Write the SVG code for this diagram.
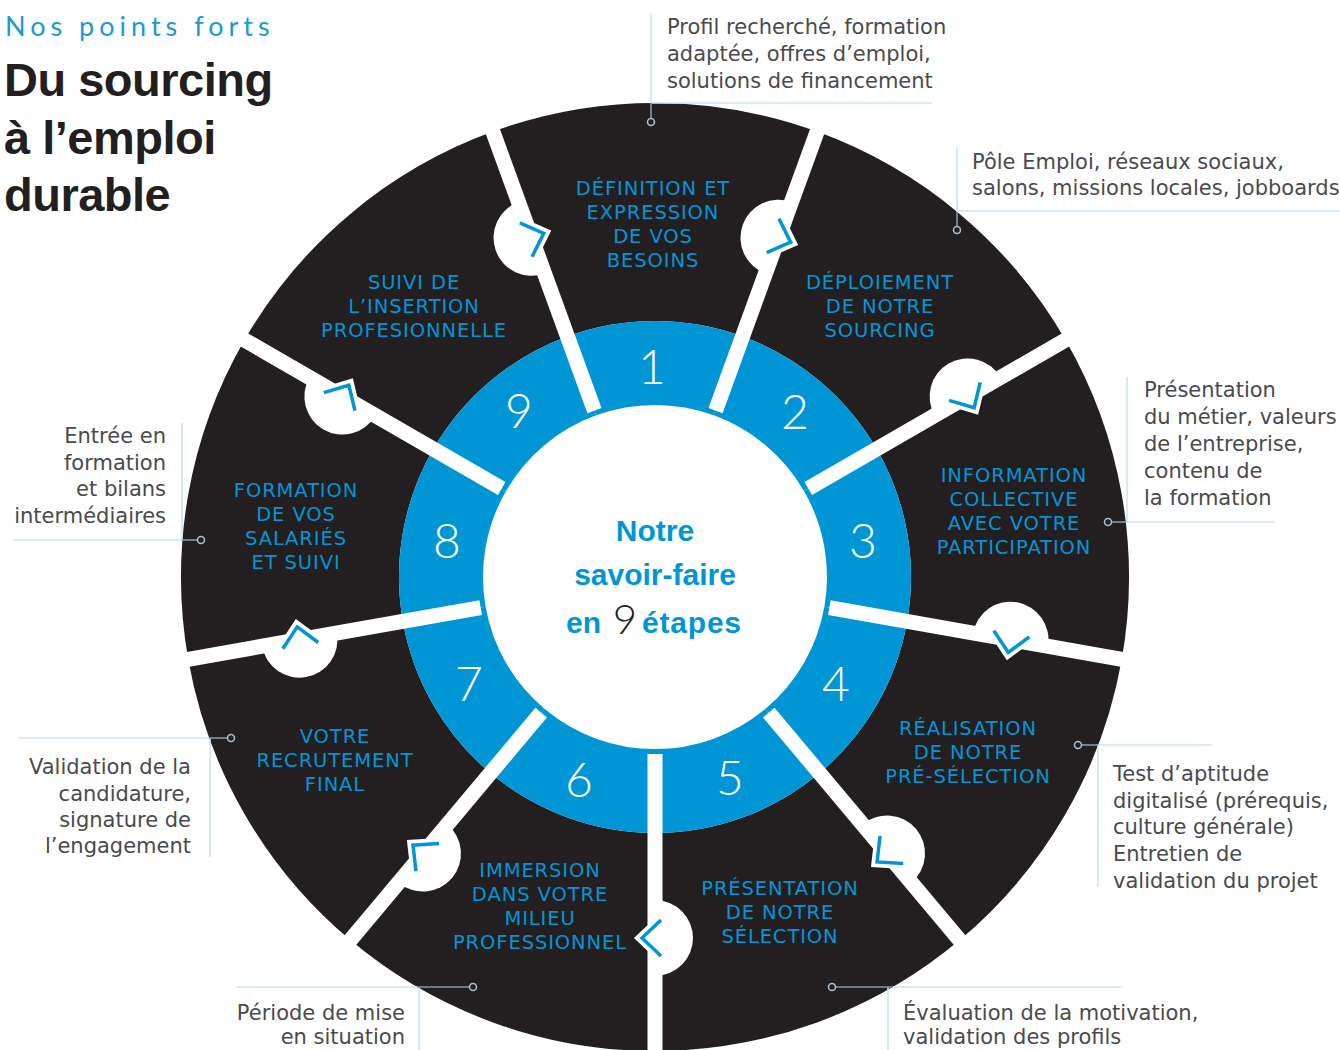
<svg xmlns="http://www.w3.org/2000/svg" width="1340" height="1050" viewBox="0 0 1340 1050">
<style>
.dk{fill:#231f20}
.bl{fill:#0096d6}
.lbl{font-family:"DejaVu Sans","Liberation Sans",sans-serif;font-size:19.5px;fill:#0096d6;text-anchor:middle;letter-spacing:0.9px}
.num{font-family:Lato,"DejaVu Sans",sans-serif;font-weight:300;font-size:48px;fill:#ffffff;text-anchor:middle}
.ann{font-family:"DejaVu Sans","Liberation Sans",sans-serif;font-size:21px;fill:#4a4a4c}
.r{text-anchor:end}
.gap{stroke:#ffffff;stroke-width:15}
.lt{stroke:#cfe3f3;stroke-width:1.6;fill:none}
.dkl{stroke:#8496a9;stroke-width:1.6;fill:none}
.dot{fill:none;stroke:#a9bdd0;stroke-width:1.6}
.cw{fill:none;stroke:#ffffff;stroke-width:11;stroke-linejoin:miter}
.cb{fill:none;stroke:#0096d6;stroke-width:3.5;stroke-linejoin:miter}
.ctr{font-family:"Liberation Sans",Arial,sans-serif;font-weight:bold;font-size:30px;fill:#0096d6}
</style>
<defs>
<g id="bump">
<path d="M655 178 A38 38 0 0 0 655 254 Z" fill="#ffffff"/>
<polyline class="cw" points="649,198 668,216 649,234"/>
<polyline class="cb" points="649,198 668,216 649,234"/>
</g>
</defs>
<rect width="1340" height="1050" fill="#ffffff"/>

<g id="title">
<text x="5" y="36" style="font-family:Lato,'DejaVu Sans',sans-serif;font-weight:400;font-size:27px;letter-spacing:5px;fill:#1a9ad6">Nos points forts</text>
<text style="font-family:'Liberation Sans',Arial,sans-serif;font-weight:bold;font-size:47px;letter-spacing:-0.5px;fill:#231f20">
<tspan x="4" y="96">Du sourcing</tspan>
<tspan x="4" y="154">à l’emploi</tspan>
<tspan x="4" y="211">durable</tspan>
</text>
</g>

<g id="step1">
<path class="dk" d="M492.88 131.59 A474 474 0 0 1 817.12 131.59 L742.56 336.44 A256 256 0 0 0 567.44 336.44 Z"/>
<path class="bl" d="M567.44 336.44 A256 256 0 0 1 742.56 336.44 L713.83 415.37 A172 172 0 0 0 596.17 415.37 Z"/>
<text class="num" x="652" y="384">1</text>
<text class="lbl"><tspan x="653" y="195">DÉFINITION ET</tspan><tspan x="653" y="219">EXPRESSION</tspan><tspan x="653" y="243">DE VOS</tspan><tspan x="653" y="267">BESOINS</tspan></text>
</g>
<g id="step2">
<path class="dk" d="M817.12 131.59 A474 474 0 0 1 1065.5 340 L876.7 449 A256 256 0 0 0 742.56 336.44 Z"/>
<path class="bl" d="M742.56 336.44 A256 256 0 0 1 876.7 449 L803.96 491 A172 172 0 0 0 713.83 415.37 Z"/>
<text class="num" x="795" y="429">2</text>
<text class="lbl"><tspan x="880" y="289">DÉPLOIEMENT</tspan><tspan x="880" y="313">DE NOTRE</tspan><tspan x="880" y="337">SOURCING</tspan></text>
</g>
<g id="step3">
<path class="dk" d="M1065.5 340 A474 474 0 0 1 1121.8 659.31 L907.11 621.45 A256 256 0 0 0 876.7 449 Z"/>
<path class="bl" d="M876.7 449 A256 256 0 0 1 907.11 621.45 L824.39 606.87 A172 172 0 0 0 803.96 491 Z"/>
<text class="num" x="863" y="558">3</text>
<text class="lbl"><tspan x="1014" y="482">INFORMATION</tspan><tspan x="1014" y="506">COLLECTIVE</tspan><tspan x="1014" y="530">AVEC VOTRE</tspan><tspan x="1014" y="554">PARTICIPATION</tspan></text>
</g>
<g id="step4">
<path class="dk" d="M1121.8 659.31 A474 474 0 0 1 959.68 940.1 L819.55 773.11 A256 256 0 0 0 907.11 621.45 Z"/>
<path class="bl" d="M907.11 621.45 A256 256 0 0 1 819.55 773.11 L765.56 708.76 A172 172 0 0 0 824.39 606.87 Z"/>
<text class="num" x="836" y="701">4</text>
<text class="lbl"><tspan x="968" y="735">RÉALISATION</tspan><tspan x="968" y="759">DE NOTRE</tspan><tspan x="968" y="783">PRÉ-SÉLECTION</tspan></text>
</g>
<g id="step5">
<path class="dk" d="M959.68 940.1 A474 474 0 0 1 655 1051 L655 833 A256 256 0 0 0 819.55 773.11 Z"/>
<path class="bl" d="M819.55 773.11 A256 256 0 0 1 655 833 L655 749 A172 172 0 0 0 765.56 708.76 Z"/>
<text class="num" x="730" y="795">5</text>
<text class="lbl"><tspan x="780" y="895">PRÉSENTATION</tspan><tspan x="780" y="919">DE NOTRE</tspan><tspan x="780" y="943">SÉLECTION</tspan></text>
</g>
<g id="step6">
<path class="dk" d="M655 1051 A474 474 0 0 1 350.32 940.1 L490.45 773.11 A256 256 0 0 0 655 833 Z"/>
<path class="bl" d="M655 833 A256 256 0 0 1 490.45 773.11 L544.44 708.76 A172 172 0 0 0 655 749 Z"/>
<text class="num" x="579" y="797">6</text>
<text class="lbl"><tspan x="540" y="877">IMMERSION</tspan><tspan x="540" y="901">DANS VOTRE</tspan><tspan x="540" y="925">MILIEU</tspan><tspan x="540" y="949">PROFESSIONNEL</tspan></text>
</g>
<g id="step7">
<path class="dk" d="M350.32 940.1 A474 474 0 0 1 188.2 659.31 L402.89 621.45 A256 256 0 0 0 490.45 773.11 Z"/>
<path class="bl" d="M490.45 773.11 A256 256 0 0 1 402.89 621.45 L485.61 606.87 A172 172 0 0 0 544.44 708.76 Z"/>
<text class="num" x="469" y="701">7</text>
<text class="lbl"><tspan x="335" y="743">VOTRE</tspan><tspan x="335" y="767">RECRUTEMENT</tspan><tspan x="335" y="791">FINAL</tspan></text>
</g>
<g id="step8">
<path class="dk" d="M188.2 659.31 A474 474 0 0 1 244.5 340 L433.3 449 A256 256 0 0 0 402.89 621.45 Z"/>
<path class="bl" d="M402.89 621.45 A256 256 0 0 1 433.3 449 L506.04 491 A172 172 0 0 0 485.61 606.87 Z"/>
<text class="num" x="447" y="558">8</text>
<text class="lbl"><tspan x="296" y="497">FORMATION</tspan><tspan x="296" y="521">DE VOS</tspan><tspan x="296" y="545">SALARIÉS</tspan><tspan x="296" y="569">ET SUIVI</tspan></text>
</g>
<g id="step9">
<path class="dk" d="M244.5 340 A474 474 0 0 1 492.88 131.59 L567.44 336.44 A256 256 0 0 0 433.3 449 Z"/>
<path class="bl" d="M433.3 449 A256 256 0 0 1 567.44 336.44 L596.17 415.37 A172 172 0 0 0 506.04 491 Z"/>
<text class="num" x="519" y="428">9</text>
<text class="lbl"><tspan x="414" y="289">SUIVI DE</tspan><tspan x="414" y="313">L’INSERTION</tspan><tspan x="414" y="337">PROFESIONNELLE</tspan></text>
</g>

<g id="center">
<text class="ctr" x="655" y="541" text-anchor="middle">Notre</text>
<text class="ctr" x="655" y="585" text-anchor="middle">savoir-faire</text>
<text class="ctr" x="566" y="633">en</text>
<text x="625" y="634" text-anchor="middle" style="font-family:Lato,'DejaVu Sans',sans-serif;font-weight:300;font-size:42px;fill:#231f20">9</text>
<text class="ctr" x="642" y="633" style="letter-spacing:0.8px">étapes</text>
</g>

<g id="connectors">
<g id="gaps">
<line class="gap" x1="655" y1="400" x2="655" y2="90" transform="rotate(20 655 577)"/>
<line class="gap" x1="655" y1="400" x2="655" y2="90" transform="rotate(60 655 577)"/>
<line class="gap" x1="655" y1="400" x2="655" y2="90" transform="rotate(100 655 577)"/>
<line class="gap" x1="655" y1="400" x2="655" y2="90" transform="rotate(140 655 577)"/>
<line class="gap" x1="655" y1="400" x2="655" y2="90" transform="rotate(180 655 577)"/>
<line class="gap" x1="655" y1="400" x2="655" y2="90" transform="rotate(220 655 577)"/>
<line class="gap" x1="655" y1="400" x2="655" y2="90" transform="rotate(260 655 577)"/>
<line class="gap" x1="655" y1="400" x2="655" y2="90" transform="rotate(300 655 577)"/>
<line class="gap" x1="655" y1="400" x2="655" y2="90" transform="rotate(340 655 577)"/>
</g>
<g id="arrows">
<use href="#bump" transform="rotate(20 655 577)"/>
<use href="#bump" transform="rotate(60 655 577)"/>
<use href="#bump" transform="rotate(100 655 577)"/>
<use href="#bump" transform="rotate(140 655 577)"/>
<use href="#bump" transform="rotate(180 655 577)"/>
<use href="#bump" transform="rotate(220 655 577)"/>
<use href="#bump" transform="rotate(260 655 577)"/>
<use href="#bump" transform="rotate(300 655 577)"/>
<use href="#bump" transform="rotate(340 655 577)"/>
</g>
<g id="leaders">
<path class="lt" d="M651 13 V103 M651 103 H932"/>
<path class="dkl" d="M651 103 V118.5"/>
<circle class="dot" cx="651" cy="122" r="3.5"/>
<path class="lt" d="M957 147 V211 H1340"/>
<path class="dkl" d="M957 212 V226.5"/>
<circle class="dot" cx="957" cy="230" r="3.5"/>
<path class="lt" d="M1127 377 V522 M1126 522 H1275"/>
<path class="dkl" d="M1111.5 522 H1126"/>
<circle class="dot" cx="1108" cy="522" r="3.5"/>
<path class="lt" d="M1098 745 H1212 M1098 745 V887"/>
<path class="dkl" d="M1081.5 745 H1098"/>
<circle class="dot" cx="1078" cy="745" r="3.5"/>
<path class="lt" d="M893 987 H1122 M888 987 V1050"/>
<path class="dkl" d="M835.5 987 H893"/>
<circle class="dot" cx="832" cy="987" r="3.5"/>
<path class="lt" d="M236 987 H417 M419 987 V1050"/>
<path class="dkl" d="M417 987 H469.5"/>
<circle class="dot" cx="473" cy="987" r="3.5"/>
<path class="lt" d="M19 738 H209 M210 738 V857"/>
<path class="dkl" d="M209 738 H227.5"/>
<circle class="dot" cx="231" cy="738" r="3.5"/>
<path class="lt" d="M13 540 H182 M182 423 V540"/>
<path class="dkl" d="M182 540 H197.5"/>
<circle class="dot" cx="201" cy="540" r="3.5"/>
</g>
</g>

<g id="note1"><text class="ann"><tspan x="667" y="34">Profil recherché, formation</tspan><tspan x="667" y="61">adaptée, offres d’emploi,</tspan><tspan x="667" y="88">solutions de financement</tspan></text></g>
<g id="note2"><text class="ann"><tspan x="972" y="169">Pôle Emploi, réseaux sociaux,</tspan><tspan x="972" y="195">salons, missions locales, jobboards</tspan></text></g>
<g id="note3"><text class="ann"><tspan x="1144" y="397">Présentation</tspan><tspan x="1144" y="424">du métier, valeurs</tspan><tspan x="1144" y="451">de l’entreprise,</tspan><tspan x="1144" y="478">contenu de</tspan><tspan x="1144" y="505">la formation</tspan></text></g>
<g id="note4"><text class="ann"><tspan x="1113" y="781">Test d’aptitude</tspan><tspan x="1113" y="808">digitalisé (prérequis,</tspan><tspan x="1113" y="834">culture générale)</tspan><tspan x="1113" y="861">Entretien de</tspan><tspan x="1113" y="888">validation du projet</tspan></text></g>
<g id="note5"><text class="ann"><tspan x="903" y="1020">Évaluation de la motivation,</tspan><tspan x="903" y="1044">validation des profils</tspan></text></g>
<g id="note6"><text class="ann r"><tspan x="405" y="1020">Période de mise</tspan><tspan x="405" y="1044">en situation</tspan></text></g>
<g id="note7"><text class="ann r"><tspan x="191" y="774">Validation de la</tspan><tspan x="191" y="801">candidature,</tspan><tspan x="191" y="827">signature de</tspan><tspan x="191" y="853">l’engagement</tspan></text></g>
<g id="note8"><text class="ann r"><tspan x="166" y="443">Entrée en</tspan><tspan x="166" y="470">formation</tspan><tspan x="166" y="496">et bilans</tspan><tspan x="166" y="523">intermédiaires</tspan></text></g>
</svg>
